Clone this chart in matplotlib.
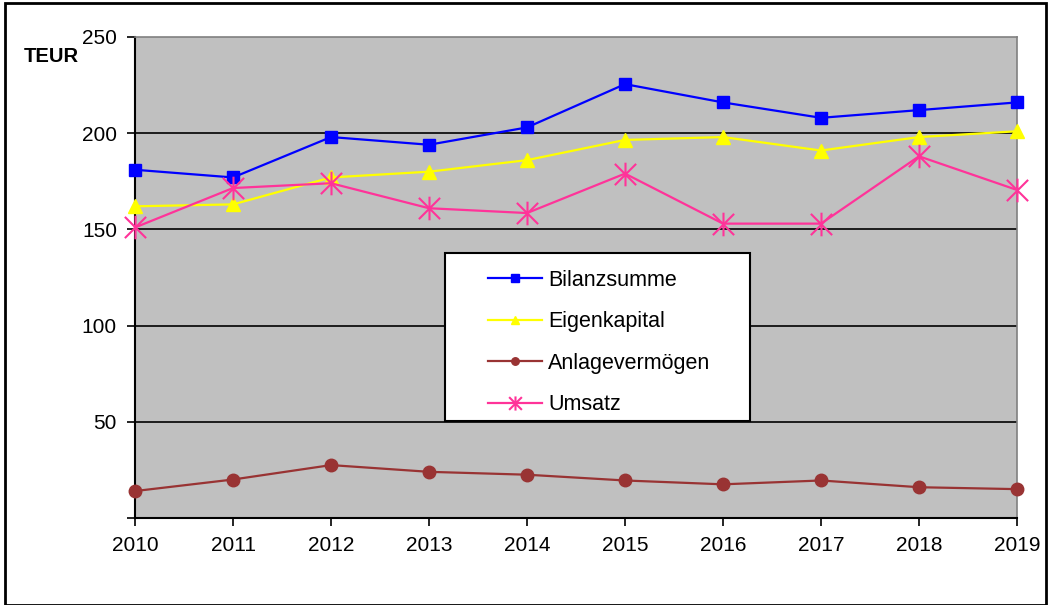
import matplotlib

matplotlib.use("Agg")
import matplotlib.pyplot as plt
from matplotlib.path import Path
from matplotlib.patches import Rectangle

plt.rcParams["font.family"] = ["Liberation Sans", "DejaVu Sans"]

years = [2010, 2011, 2012, 2013, 2014, 2015, 2016, 2017, 2018, 2019]
bilanzsumme = [181, 177, 198, 194, 203, 225.5, 216, 208, 212, 216]
eigenkapital = [162, 163, 177, 180, 186, 196.5, 198, 191, 198, 201]
anlagevermoegen = [14, 20, 27.5, 24, 22.5, 19.5, 17.5, 19.5, 16, 15]
umsatz = [151, 171.5, 174, 161, 158.5, 179, 153, 153, 188, 170.5]

y_ticks = [0, 50, 100, 150, 200, 250]
y_labels = ["", "50", "100", "150", "200", "250"]

W, H = 1048, 605

# asterisk: vertical stroke plus two diagonals, line-only
star = Path(
    [(0, -1), (0, 1), (-0.9, -0.9), (0.9, 0.9), (-0.9, 0.9), (0.9, -0.9)],
    [Path.MOVETO, Path.LINETO, Path.MOVETO, Path.LINETO, Path.MOVETO, Path.LINETO],
)

fig = plt.figure(figsize=(W / 100, H / 100), dpi=100)
fig.patches.append(Rectangle((5 / W, 0), 1041 / W, 602 / H, transform=fig.transFigure,
                             fill=False, edgecolor="black", linewidth=2))

ax = fig.add_axes([135 / W, 1 - 518 / H, (1017 - 135) / W, (518 - 37) / H])
ax.set_facecolor("#C0C0C0")

for v in y_ticks[1:-1]:
    ax.axhline(v, color="black", linewidth=1.2, zorder=1)

ax.plot(years, bilanzsumme, color="#0000FF", lw=1.6, marker="s", ms=9,
        label="Bilanzsumme", clip_on=False, zorder=3)
ax.plot(years, eigenkapital, color="#FFFF00", lw=1.6, marker="^", ms=10,
        label="Eigenkapital", clip_on=False, zorder=3)
ax.plot(years, anlagevermoegen, color="#993333", lw=1.6, marker="o", ms=9,
        label="Anlagevermögen", clip_on=False, zorder=3)
ax.plot(years, umsatz, color="#FF3399", lw=1.6, marker=star, ms=17, mew=1.5,
        mfc="none", label="Umsatz", clip_on=False, zorder=3)

ax.set_xlim(2010, 2019)
ax.set_ylim(0, 250)
ax.set_xticks(years)
ax.set_yticks(y_ticks)
ax.set_yticklabels(y_labels)
ax.tick_params(axis="both", direction="out", length=6, width=1.2, labelsize=15, pad=7)

for side in ["left", "bottom"]:
    ax.spines[side].set_color("black")
    ax.spines[side].set_linewidth(1.5)
for side in ["top", "right"]:
    ax.spines[side].set_color("#808080")
    ax.spines[side].set_linewidth(1.2)

fig.text(24 / W, 1 - 56 / H, "TEUR", fontsize=14.5, fontweight="bold", va="center", ha="left")

# legend box
fig.patches.append(Rectangle((445 / W, 1 - 421 / H), 305 / W, 168 / H, transform=fig.transFigure,
                             facecolor="white", edgecolor="black", linewidth=1.5, zorder=5))
handles, labels = ax.get_legend_handles_labels()
leg = fig.legend(handles, labels, loc="upper left", bbox_to_anchor=(477 / W, 1 - 259 / H),
                 frameon=False, fontsize=15.5, borderpad=0, labelspacing=0.95,
                 handlelength=2.5, handletextpad=0.3, markerscale=0.6)
leg.set_zorder(6)

fig.savefig("out.png", dpi=100)
